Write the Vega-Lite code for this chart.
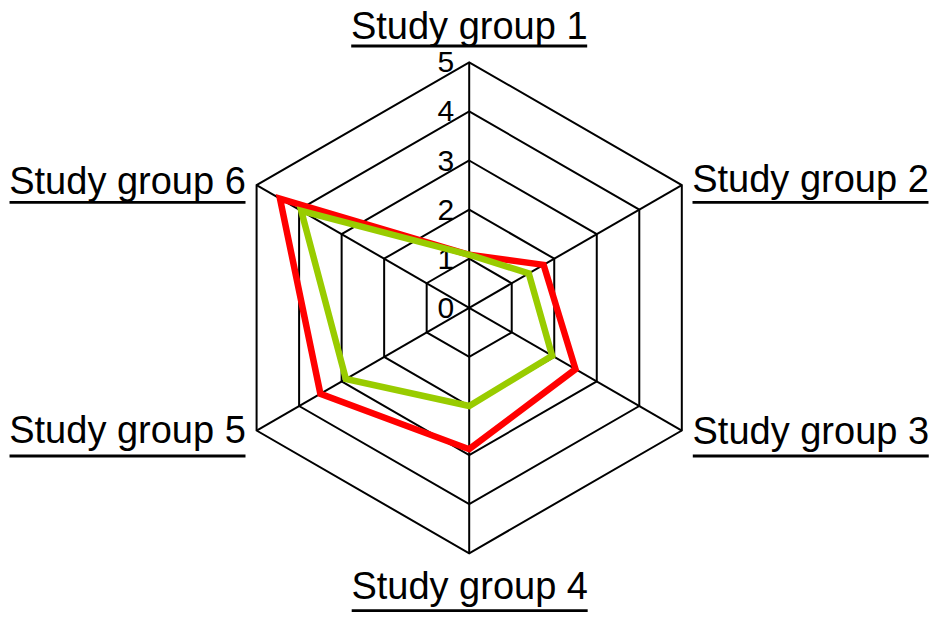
{
  "$schema": "https://vega.github.io/schema/vega-lite/v6.json",
  "width": 941,
  "height": 621,
  "padding": 0,
  "autosize": {"type": "none"},
  "background": "white",
  "view": {"stroke": null},
  "config": {"font": "Liberation Sans"},
  "datasets": {
    "scores": [
      {"category": "Study group 1", "series": "Series 1", "value": 1.08},
      {"category": "Study group 2", "series": "Series 1", "value": 1.75},
      {"category": "Study group 3", "series": "Series 1", "value": 2.5},
      {"category": "Study group 4", "series": "Series 1", "value": 2.88},
      {"category": "Study group 5", "series": "Series 1", "value": 3.5},
      {"category": "Study group 6", "series": "Series 1", "value": 4.45},
      {"category": "Study group 1", "series": "Series 2", "value": 1.08},
      {"category": "Study group 2", "series": "Series 2", "value": 1.4},
      {"category": "Study group 3", "series": "Series 2", "value": 1.95},
      {"category": "Study group 4", "series": "Series 2", "value": 2.0},
      {"category": "Study group 5", "series": "Series 2", "value": 2.9},
      {"category": "Study group 6", "series": "Series 2", "value": 3.95}
    ],
    "grid": [
      {"category": "Study group 1", "level": 1}, {"category": "Study group 2", "level": 1}, {"category": "Study group 3", "level": 1},
      {"category": "Study group 4", "level": 1}, {"category": "Study group 5", "level": 1}, {"category": "Study group 6", "level": 1},
      {"category": "Study group 1", "level": 2}, {"category": "Study group 2", "level": 2}, {"category": "Study group 3", "level": 2},
      {"category": "Study group 4", "level": 2}, {"category": "Study group 5", "level": 2}, {"category": "Study group 6", "level": 2},
      {"category": "Study group 1", "level": 3}, {"category": "Study group 2", "level": 3}, {"category": "Study group 3", "level": 3},
      {"category": "Study group 4", "level": 3}, {"category": "Study group 5", "level": 3}, {"category": "Study group 6", "level": 3},
      {"category": "Study group 1", "level": 4}, {"category": "Study group 2", "level": 4}, {"category": "Study group 3", "level": 4},
      {"category": "Study group 4", "level": 4}, {"category": "Study group 5", "level": 4}, {"category": "Study group 6", "level": 4},
      {"category": "Study group 1", "level": 5}, {"category": "Study group 2", "level": 5}, {"category": "Study group 3", "level": 5},
      {"category": "Study group 4", "level": 5}, {"category": "Study group 5", "level": 5}, {"category": "Study group 6", "level": 5}
    ],
    "ticks": [
      {"level": 0}, {"level": 1}, {"level": 2}, {"level": 3}, {"level": 4}, {"level": 5}
    ],
    "groups": [
      {"category": "Study group 1"}, {"category": "Study group 2"}, {"category": "Study group 3"},
      {"category": "Study group 4"}, {"category": "Study group 5"}, {"category": "Study group 6"}
    ]
  },
  "encoding": {
    "x": {"field": "px", "type": "quantitative", "scale": {"domain": [-9.556, 9.609], "nice": false, "zero": false}, "axis": null},
    "y": {"field": "py", "type": "quantitative", "scale": {"domain": [-6.379, 6.269], "nice": false, "zero": false}, "axis": null}
  },
  "layer": [
    {
      "data": {"name": "grid"},
      "transform": [
        {"calculate": "indexof(['Study group 1','Study group 2','Study group 3','Study group 4','Study group 5','Study group 6'], datum.category)", "as": "i"},
        {"calculate": "datum.level * sin(datum.i * PI / 3)", "as": "px"},
        {"calculate": "datum.level * cos(datum.i * PI / 3)", "as": "py"}
      ],
      "mark": {"type": "line", "interpolate": "linear-closed", "color": "black", "strokeWidth": 2},
      "encoding": {
        "detail": {"field": "level", "type": "nominal"},
        "order": {"field": "i", "type": "quantitative"}
      }
    },
    {
      "data": {"name": "grid"},
      "transform": [
        {"filter": "datum.level == 5"},
        {"calculate": "indexof(['Study group 1','Study group 2','Study group 3','Study group 4','Study group 5','Study group 6'], datum.category)", "as": "i"},
        {"calculate": "datum.level * sin(datum.i * PI / 3)", "as": "px"},
        {"calculate": "datum.level * cos(datum.i * PI / 3)", "as": "py"},
        {"calculate": "0", "as": "z"}
      ],
      "mark": {"type": "rule", "color": "black", "strokeWidth": 2},
      "encoding": {
        "x2": {"field": "z"},
        "y2": {"field": "z"}
      }
    },
    {
      "data": {"name": "ticks"},
      "transform": [
        {"calculate": "0", "as": "px"},
        {"calculate": "datum.level", "as": "py"}
      ],
      "mark": {"type": "text", "align": "right", "baseline": "middle", "dx": -15, "dy": 1, "fontSize": 30, "color": "black"},
      "encoding": {
        "text": {"field": "level", "type": "nominal"}
      }
    },
    {
      "data": {"name": "scores"},
      "transform": [
        {"calculate": "indexof(['Study group 1','Study group 2','Study group 3','Study group 4','Study group 5','Study group 6'], datum.category)", "as": "i"},
        {"calculate": "datum.value * sin(datum.i * PI / 3)", "as": "px"},
        {"calculate": "datum.value * cos(datum.i * PI / 3)", "as": "py"}
      ],
      "mark": {"type": "line", "interpolate": "linear-closed", "strokeWidth": 6.5, "strokeJoin": "miter", "strokeMiterLimit": 10},
      "encoding": {
        "color": {"field": "series", "type": "nominal", "scale": {"domain": ["Series 1", "Series 2"], "range": ["#FF0000", "#99CC00"]}, "legend": null},
        "order": {"field": "i", "type": "quantitative"}
      }
    },
    {
      "data": {"name": "groups"},
      "transform": [
        {"calculate": "indexof(['Study group 1','Study group 2','Study group 3','Study group 4','Study group 5','Study group 6'], datum.category)", "as": "i"},
        {"calculate": "[0, 6.951, 6.957, 0.01, -6.959, -6.959][datum.i]", "as": "px"},
        {"calculate": "[5.468, 2.358, -2.78, -5.937, -2.754, 2.318][datum.i]", "as": "py"}
      ],
      "mark": {"type": "text", "align": "center", "baseline": "alphabetic", "fontSize": 38, "color": "black"},
      "encoding": {
        "text": {"field": "category", "type": "nominal"}
      }
    },
    {
      "data": {"name": "groups"},
      "transform": [
        {"calculate": "indexof(['Study group 1','Study group 2','Study group 3','Study group 4','Study group 5','Study group 6'], datum.category)", "as": "i"},
        {"calculate": "[0, 6.951, 6.957, 0.01, -6.959, -6.959][datum.i] - 2.403", "as": "px"},
        {"calculate": "[0, 6.951, 6.957, 0.01, -6.959, -6.959][datum.i] + 2.403", "as": "px2"},
        {"calculate": "[5.332, 2.149, -3.018, -6.169, -3.018, 2.149][datum.i]", "as": "py"}
      ],
      "mark": {"type": "rule", "color": "black", "strokeWidth": 2.8},
      "encoding": {
        "x2": {"field": "px2"}
      }
    }
  ]
}
